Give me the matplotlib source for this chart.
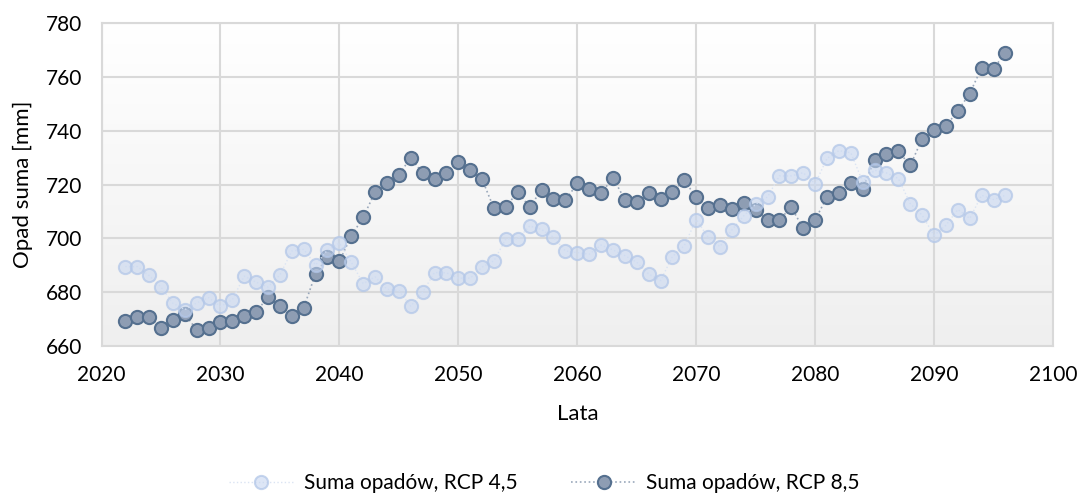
import numpy as np
import matplotlib.pyplot as plt
from matplotlib.colors import LinearSegmentedColormap

lata = list(range(2022, 2097))

rcp45 = [689.5, 689.5, 686.2, 681.9, 675.9, 673.5, 676.0, 678.0, 674.7, 677.2,
         686.0, 683.7, 681.9, 686.4, 695.3, 695.9, 690.1, 695.7, 698.2, 691.1,
         683.2, 685.7, 681.1, 680.6, 674.8, 680.0, 687.3, 687.2, 685.2, 685.2,
         689.3, 691.7, 699.8, 699.8, 704.6, 703.3, 700.4, 695.3, 694.7, 694.1,
         697.5, 695.7, 693.6, 691.1, 686.8, 684.3, 693.2, 697.3, 707.0, 700.4,
         696.9, 703.1, 708.4, 712.7, 715.4, 723.2, 723.2, 724.4, 720.3, 729.7,
         732.6, 731.8, 721.0, 725.3, 724.3, 722.2, 712.9, 708.6, 701.1, 704.9,
         710.7, 707.4, 716.0, 714.4, 716.0]

rcp85 = [669.3, 670.7, 670.7, 666.8, 669.5, 671.9, 666.0, 666.8, 669.1, 669.4,
         671.0, 672.6, 678.3, 674.7, 671.0, 674.2, 686.9, 693.0, 691.5, 700.9,
         707.8, 717.2, 720.7, 723.7, 729.9, 724.2, 721.9, 724.4, 728.4, 725.3,
         721.9, 711.1, 711.7, 717.3, 711.6, 718.0, 714.8, 714.1, 720.4, 718.4,
         716.7, 722.5, 714.4, 713.6, 716.7, 714.8, 717.3, 721.5, 715.3, 711.1,
         712.5, 711.0, 713.3, 710.7, 706.7, 707.0, 711.5, 703.7, 706.8, 715.4,
         716.9, 720.7, 718.5, 729.2, 731.5, 732.3, 727.1, 737.0, 740.2, 741.7,
         747.4, 753.8, 763.4, 763.1, 768.9]

etykiety = ["Suma opadów, RCP 4,5", "Suma opadów, RCP 8,5"]

plt.rcParams['font.family'] = ['Lato', 'DejaVu Sans']

fig = plt.figure(figsize=(10.8, 4.95), dpi=100)
ax = fig.add_axes([0.094, 0.301, 0.881, 0.6525])

# gradient tla
grad = np.linspace(1.0, 0.0, 256).reshape(-1, 1)
cm = LinearSegmentedColormap.from_list('g', ['#efefef', '#ffffff'])
ax.imshow(grad, cmap=cm, extent=[2020, 2100, 660, 780],
          aspect='auto', zorder=0, origin='upper')

ax.plot(lata, rcp45, linestyle=':', linewidth=1.0, color='#dbe4f3',
        marker='o', markersize=9.5, markerfacecolor=(0.78, 0.84, 0.94, 0.6),
        markeredgecolor=(0.70, 0.78, 0.91, 0.75), markeredgewidth=1.5,
        label=etykiety[0], zorder=3)
ax.plot(lata, rcp85, linestyle=':', linewidth=1.2, color='#9aa8bb',
        marker='o', markersize=9.5, markerfacecolor='#8e9db3',
        markeredgecolor='#55708f', markeredgewidth=1.5,
        label=etykiety[1], zorder=2)

ax.set_xlim(2020, 2100)
ax.set_ylim(660, 780)
ax.set_xticks(range(2020, 2101, 10))
ax.set_yticks(range(660, 781, 20))
ax.grid(True, color='#d9d9d9', linewidth=1.5, zorder=1)
ax.set_axisbelow(True)
for s in ax.spines.values():
    s.set_color('#d9d9d9')
    s.set_linewidth(1.5)
ax.tick_params(length=0, labelsize=15, colors='#000000', pad=14)

fig.text(0.5347, 0.1636, "Lata", fontsize=16, ha='center', va='center')
fig.text(0.021, 0.627, "Opad suma [mm]", fontsize=16, ha='center',
         va='center', rotation=90)

fig.legend(loc='center', bbox_to_anchor=(0.504, 0.024), ncol=2, frameon=False,
           fontsize=15, handlelength=3.1, handletextpad=0.5, columnspacing=2.6)

fig.savefig("out.png", dpi=100)
